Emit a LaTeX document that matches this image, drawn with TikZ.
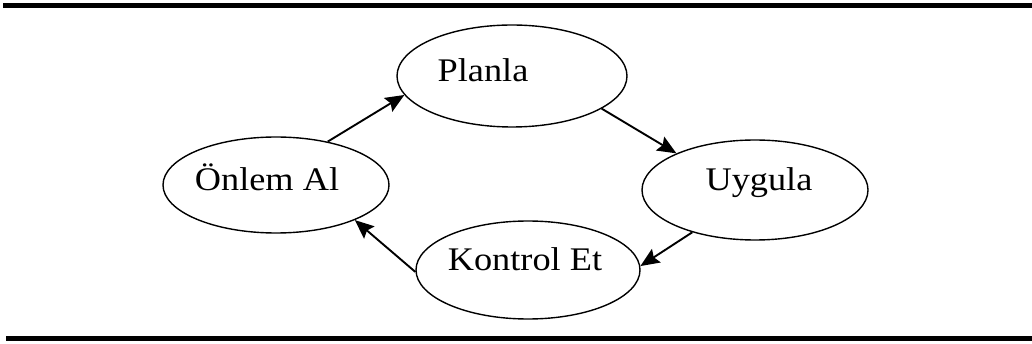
\documentclass[tikz,border=0pt]{standalone}
\usepackage{fontspec}
\setmainfont{Liberation Serif}
\usetikzlibrary{shapes.geometric,arrows.meta}

\tikzset{
  stage/.style={draw=black, line width=1.4pt, ellipse, inner sep=0pt, fill=white},
  stagetext/.style={anchor=base, inner sep=0pt, text=black,
    font=\fontsize{33}{39}\selectfont},
  flow/.style={line width=1.9pt, -{Stealth[length=19pt,width=16pt,inset=3pt]}},
  rule/.style={line width=5pt, black}
}
\newcommand{\stagelabel}[1]{\scalebox{1.1}[1]{#1}}

\begin{document}
\begin{tikzpicture}[x=1pt,y=-1pt]
  \useasboundingbox (0,0) rectangle (1032,344);

  % horizontal rules above and below the cycle
  \coordinate (topL) at (3,5.5);
  \coordinate (topR) at (1032,5.5);
  \coordinate (botL) at (6,338);
  \coordinate (botR) at (1032,338);
  \draw[rule] (topL) -- (topR);
  \draw[rule] (botL) -- (botR);

  % the four stages
  \node[stage, minimum width=230pt, minimum height=102pt] (plan) at (512,76) {};
  \node[stage, minimum width=226pt, minimum height=96pt]  (act)  at (276,185) {};
  \node[stage, minimum width=226pt, minimum height=100pt] (do)   at (755,190) {};
  \node[stage, minimum width=224pt, minimum height=98pt]  (check) at (528,270) {};

  \node[stagetext] (plantext)  at (483,82)  {\stagelabel{Planla}};
  \node[stagetext] (acttext)   at (267,191) {\stagelabel{Önlem Al}};
  \node[stagetext] (dotext)    at (759,191) {\stagelabel{Uygula}};
  \node[stagetext] (checktext) at (525,271) {\stagelabel{Kontrol Et}};

  % cycle arrows
  \draw[flow] (act.40)   -- (plan.190);
  \draw[flow] (plan.340) -- (do.155);
  \draw[flow] (do.214)   -- (check.2);
  \draw[flow] (check.181) -- (act.336);
\end{tikzpicture}
\end{document}
